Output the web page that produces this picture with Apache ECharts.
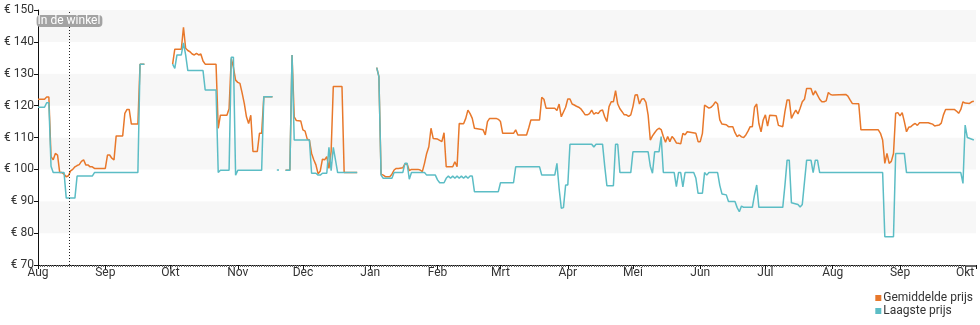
<!DOCTYPE html>
<html>
<head>
<meta charset="utf-8">
<script src="https://cdn.jsdelivr.net/npm/echarts@6/dist/echarts.min.js"></script>
<style>
  html, body { margin: 0; padding: 0; background: #fff; }
  #chart { width: 980px; height: 325px; }
</style>
</head>
<body>
<div id="chart"></div>
<script>
// Price history, one value per listed day; days are counted from 1 Aug 2023.
// A null price marks a period without data (the line breaks there).
const MONTH_LABELS = ['Jan', 'Feb', 'Mrt', 'Apr', 'Mei', 'Jun', 'Jul', 'Aug', 'Sep', 'Okt', 'Nov', 'Dec'];
const Y_TICKS = [70, 80, 90, 100, 110, 120, 130, 140, 150];
const SERIES_NAMES = ['Gemiddelde prijs', 'Laagste prijs'];
const STORE_LABEL = 'In de winkel';
const STORE_DAY = 14.5;
const LAST_DAY = 432;

const avgDays = [
  0, 3, 4, 5, 6, 7, 8, 9, 10, 11, 12, 13, 14, 15, 16, 17, 18, 19, 20, 21, 22, 23, 24, 25, 26, 31, 32, 33, 34, 35, 36, 39, 40, 41, 42, 43, 46, 47, 49, 50,
  62, 63, 66, 67, 68, 69, 70, 71, 72, 73, 74, 75, 76, 77, 82, 83, 84, 87, 88, 89, 90, 91, 92, 93, 94, 95, 96, 97, 98, 99, 101, 102, 103, 104, 108, 109,
  114, 116, 117, 118, 119, 121, 122, 123, 124, 125, 126, 127, 128, 129, 130, 131, 132, 133, 134, 135, 136, 140, 141, 147, 148,
  156, 157, 158, 159, 160, 162, 163, 164, 165, 166, 168, 169, 170, 171, 172, 175, 176, 177, 178, 179, 180, 181, 182, 184, 186, 187, 188, 191, 192, 193, 194, 196, 197, 198, 199, 200, 201, 205, 206, 207, 208, 211, 212, 213, 214, 219, 220, 221, 225, 226, 227, 231, 232, 233, 234, 238, 239, 240, 241, 242, 243, 244, 245, 246, 247, 248, 249, 250, 251, 252, 253, 254, 255, 256, 257, 258, 259, 260, 261, 262, 263, 264, 265, 266, 267, 268, 269, 270, 271, 272, 273, 274, 275, 276, 277, 278, 279, 280, 281, 282, 283, 284, 285, 286, 287, 288, 289, 290, 291, 292, 293, 294, 295, 296, 297, 298, 299, 303, 304, 305, 306, 307, 308, 309, 310, 311, 312, 313, 314, 315, 317, 318, 320, 321, 322, 323, 324, 325, 326, 327, 328, 329, 330, 331, 332, 333, 334, 335, 336, 337, 340, 341, 343, 344, 345, 346, 347, 348, 349, 350, 351, 352, 353, 354, 356, 357, 358, 359, 360, 361, 362, 363, 364, 365, 366, 372, 373, 374, 375, 378, 379, 387, 388, 389, 390, 391, 392, 393, 394, 395, 396, 397, 398, 399, 400, 401, 402, 403, 404, 405, 406, 410, 411, 412, 413, 414, 415, 416, 417, 418, 422, 423, 424, 425, 426, 427, 429, 430, 431
];
const avgPrices = [
  122, 122, 122.7, 122.7, 104, 103, 105, 104.5, 99, 99, 98.5, 97.7, 98, 99.5, 100, 100.8, 101.2, 101.5, 102.5, 103, 101.4, 101.4, 100.8, 100.8, 100.3, 100.3, 104.5, 104.5, 103.5, 103, 110.5, 110.5, 117.6, 118.8, 118.8, 114.2, 114.2, 133, 133, null,
  133, 137.7, 137.7, 144.6, 138, 137.3, 136.9, 136.2, 135.9, 136.4, 135.9, 136.2, 134, 133, 133, 112.9, 117, 117, 119, 134.8, 132, 128, 127.3, 127, 124, 120.7, 116.5, 114.4, 117, 105.6, 105.6, 111.3, 111.3, 122.8, 122.8, null,
  99.7, 99.7, 135.9, 116.5, 115.3, 115.2, 112.4, 112, 109.5, 109.2, 105, 103, 101.4, 98.6, 99.5, 103.2, 103, 104, 100.3, 105.6, 126, 126, 99, 99, null,
  131.9, 129.1, 98.5, 98.2, 97.7, 97.7, 98.5, 99.8, 100.3, 100.3, 100.5, 101.7, 101.7, 99.6, 100, 100, 99.8, 99.3, 101.9, 105, 107.1, 112.9, 109.7, 109.5, 108.7, 111.5, 100.8, 100.8, 102.4, 100.8, 114.4, 114.3, 116, 118.6, 117.5, 116, 112.9, 112.4, 110.8, 115, 116, 116, 115.7, 115, 111.3, 111.3, 112.4, 110.8, 110.8, 113, 115.5, 115.5, 122.6, 122, 119.2, 119.2, 118.5, 120.5, 116.5, 118, 119.5, 122.1, 122.1, 120.5, 120.2, 119.8, 119.5, 119, 118.1, 117.1, 117.1, 117.5, 118.6, 117.3, 117.8, 117.5, 118.4, 118.6, 116.5, 115, 119.7, 121.2, 121.2, 124.7, 120.5, 119, 118.1, 117.1, 117.1, 116.6, 117.1, 119.7, 123.3, 123.4, 120.5, 122, 122.2, 121, 117, 109.2, 110.5, 111.5, 112.4, 112.9, 112.5, 110.3, 108.5, 110.3, 108.7, 110.3, 109.5, 108.3, 108.2, 108, 111.3, 110.8, 111.8, 111.3, 108.7, 108.7, 111.3, 120.2, 119.7, 119.2, 119.5, 120.2, 121.2, 120.5, 115.5, 114.2, 114, 113.4, 113.4, 111.5, 110.3, 110.8, 110.2, 110, 110.8, 112, 113.4, 113.4, 119.5, 120.5, 114.4, 111.8, 115.5, 117.1, 113.6, 117, 116.8, 113.8, 113.4, 118.1, 121.8, 121.8, 116, 117.4, 118.6, 117.4, 119.2, 121.2, 122, 125.4, 125.4, 123.3, 124.6, 123.3, 122, 121.2, 121.2, 121.5, 124.1, 123.5, 123.3, 123.5, 123, 121.8, 120.7, 120.6, 112.4, 112.4, 111.3, 109.2, 101.9, 105, 101.9, 102.5, 105, 117.6, 117.8, 116.8, 117.8, 115, 111.8, 113.2, 113.4, 114, 114.4, 113.8, 114.6, 114.6, 114.4, 114.2, 113.6, 113.8, 113.9, 114.5, 117.1, 118.8, 118.8, 118.3, 117.6, 118.8, 121.2, 120.8, 120.7, 121.2, 121.4
];

const lowDays = [
  0, 3, 4, 5, 6, 7, 12, 13, 17, 18, 25, 26, 46, 47, 49, 50,
  62, 63, 64, 66, 67, 68, 69, 76, 77, 82, 83, 84, 88, 89, 90, 91, 92, 103, 104, 108, 109,
  110, 111, 112, 114, 116, 117, 118, 125, 126, 128, 129, 130, 131, 133, 134, 135, 136, 137, 138, 147, 148,
  156, 157, 158, 159, 163, 164, 168, 169, 170, 171, 172, 178, 179, 183, 184, 185, 187, 188, 189, 190, 191, 192, 193, 194, 195, 196, 197, 198, 199, 200, 201, 212, 213, 219, 220, 231, 232, 238, 239, 240, 241, 242, 243, 244, 245, 255, 256, 257, 260, 261, 262, 265, 266, 267, 268, 273, 274, 281, 282, 283, 284, 286, 287, 288, 293, 294, 295, 296, 297, 298, 302, 303, 304, 306, 307, 308, 309, 313, 314, 315, 317, 318, 321, 322, 323, 324, 325, 329, 330, 331, 332, 343, 344, 345, 346, 347, 350, 351, 352, 353, 354, 356, 357, 358, 359, 360, 389, 390, 394, 395, 399, 400, 425, 426, 427, 428, 431
];
const lowPrices = [
  119.5, 119.5, 120.9, 120.9, 101, 99, 99, 91, 91, 97.9, 97.9, 99, 99, 133, 133, null,
  133, 131.7, 135.9, 135.9, 139.7, 135.9, 131, 131, 124.9, 124.9, 99, 99.7, 99.7, 135.2, 135.2, 98.2, 99.7, 99.7, 122.8, 122.8, null,
  99.8, 99.8, null, 99.7, 99.7, 135.9, 109.2, 109.2, 98.8, 98.8, 98.2, 98.2, 98.8, 98.8, 106.9, 99.6, 106.9, 103, 99, 99, null,
  131.9, 129.1, 98.2, 97.2, 97.2, 99, 99, 101.9, 101.9, 96.9, 99, 99, 98.2, 98.2, 96.7, 95.8, 95.8, 97.2, 97.9, 97.2, 97.9, 97.2, 97.9, 97.2, 97.9, 97.2, 97.9, 97.2, 97.9, 97.9, 93, 93, 95.8, 95.8, 100.8, 100.8, 98.2, 98.2, 101.9, 94, 87.8, 88, 95.1, 95.1, 107.9, 107.9, 107, 107.9, 107.9, 101, 94.9, 94.9, 107.9, 107.9, 99, 99, 105.5, 105.5, 101, 98.8, 105.5, 105.5, 110.3, 99, 99, 94.6, 99, 99, 94.5, 99, 99, 97.2, 92.5, 92.5, 99, 98.2, 99, 99, 95, 92.3, 92, 89.9, 89.9, 88, 86.7, 88.5, 88.1, 88.1, 92, 95.1, 88.1, 88.1, 95, 102.9, 102.9, 89.5, 89, 88.2, 89, 96, 102.9, 102.9, 99, 102.9, 102.9, 99, 99, 78.9, 78.9, 105, 105, 99, 99, 95.6, 113.9, 110, 109.2
];

const COLORS = ['#e8782b', '#5cbdc5'];

function dayTime(d) {
  const whole = Math.floor(d);
  return new Date(2023, 7, 1 + whole, Math.round((d - whole) * 24)).getTime();
}
function toPoints(days, prices) {
  return days.map((d, i) => [dayTime(d), prices[i]]);
}

const DAY_MS = 86400000;
const chart = echarts.init(document.getElementById('chart'), null, { renderer: 'canvas' });

chart.setOption({
  animation: false,
  textStyle: { fontFamily: 'Roboto, sans-serif' },
  color: COLORS,
  grid: { left: 38, right: 4, top: 10, bottom: 60, containLabel: false },
  legend: {
    data: SERIES_NAMES,
    orient: 'vertical',
    right: 2,
    bottom: 3,
    icon: 'rect',
    itemWidth: 6,
    itemHeight: 6,
    itemGap: 1,
    textStyle: { fontSize: 12, color: '#333', padding: [0, 0, 0, -3] }
  },
  xAxis: {
    type: 'time',
    min: dayTime(0),
    max: dayTime(LAST_DAY),
    minInterval: 28 * DAY_MS,
    maxInterval: 31 * DAY_MS,
    axisLine: { show: true, lineStyle: { color: '#111', width: 1 } },
    axisTick: { show: true, length: 4, lineStyle: { color: '#111' } },
    minorTick: { show: true, splitNumber: 30, length: 2, lineStyle: { color: '#666' } },
    axisLabel: {
      color: '#333',
      fontSize: 12,
      margin: 2,
      formatter: (v) => MONTH_LABELS[new Date(v).getMonth()]
    },
    splitLine: { show: false }
  },
  yAxis: {
    type: 'value',
    min: Y_TICKS[0],
    max: Y_TICKS[Y_TICKS.length - 1],
    interval: Y_TICKS[1] - Y_TICKS[0],
    axisLine: { show: true, lineStyle: { color: '#111', width: 1 } },
    axisTick: { show: true, length: 4, lineStyle: { color: '#111' } },
    axisLabel: { color: '#333', fontSize: 12, margin: 4, formatter: '€ {value}' },
    splitLine: { show: false },
    splitArea: { show: true, areaStyle: { color: ['#ffffff', '#f7f7f7'] } }
  },
  series: [
    {
      name: SERIES_NAMES[0],
      type: 'line',
      data: toPoints(avgDays, avgPrices),
      showSymbol: false,
      connectNulls: false,
      lineStyle: { width: 1.5, color: COLORS[0] },
      z: 2,
      markLine: {
        silent: true,
        symbol: 'none',
        lineStyle: { color: '#222', type: [1, 2], width: 1 },
        label: {
          show: true,
          position: 'end',
          distance: -17,
          formatter: STORE_LABEL,
          color: '#fff',
          fontSize: 12,
          backgroundColor: '#a3a3a3',
          borderRadius: 4,
          padding: [0, 2, 0, 1]
        },
        data: [{ xAxis: dayTime(STORE_DAY) }]
      }
    },
    {
      name: SERIES_NAMES[1],
      type: 'line',
      data: toPoints(lowDays, lowPrices),
      showSymbol: false,
      connectNulls: false,
      lineStyle: { width: 1.5, color: COLORS[1] },
      z: 3
    }
  ]
});
</script>
</body>
</html>
